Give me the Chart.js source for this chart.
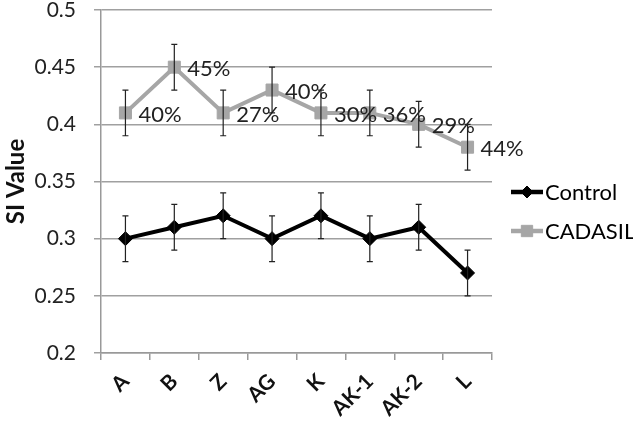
<!DOCTYPE html>
<html>
<head>
<meta charset="utf-8">
<script src="https://cdn.jsdelivr.net/npm/chart.js@4"></script>
<style>
  html, body { margin: 0; padding: 0; background: #fff; }
  #wrap { width: 633px; height: 423px; }
</style>
</head>
<body>
<div id="wrap"><canvas id="grafico" width="633" height="423"></canvas></div>
<script>
const categorias = ["A", "B", "Z", "AG", "K", "AK-1", "AK-2", "L"];
const control = [0.30, 0.31, 0.32, 0.30, 0.32, 0.30, 0.31, 0.27];
const controlError = [0.02, 0.02, 0.02, 0.02, 0.02, 0.02, 0.02, 0.02];
const cadasil = [0.41, 0.45, 0.41, 0.43, 0.41, 0.41, 0.40, 0.38];
const cadasilError = [0.02, 0.02, 0.02, 0.02, 0.02, 0.02, 0.02, 0.02];
const etiquetas = ["40%", "45%", "27%", "40%", "30%", "36%", "29%", "44%"];
const yTicks = [0.2, 0.25, 0.3, 0.35, 0.4, 0.45, 0.5];

const fuente = "Lato, 'Open Sans', sans-serif";

// barras de error
const barrasError = {
    id: "barrasError",
    afterDatasetsDraw(chart) {
        const ctx = chart.ctx;
        const y = chart.scales.y;
        ctx.save();
        ctx.strokeStyle = "#222";
        ctx.lineWidth = 1.2;
        chart.data.datasets.forEach((ds, i) => {
            const meta = chart.getDatasetMeta(i);
            meta.data.forEach((pt, j) => {
                const top = y.getPixelForValue(ds.data[j] + ds.errores[j]);
                const bot = y.getPixelForValue(ds.data[j] - ds.errores[j]);
                ctx.beginPath();
                ctx.moveTo(pt.x, top); ctx.lineTo(pt.x, bot);
                ctx.moveTo(pt.x - 3, top); ctx.lineTo(pt.x + 3, top);
                ctx.moveTo(pt.x - 3, bot); ctx.lineTo(pt.x + 3, bot);
                ctx.stroke();
            });
        });
        ctx.restore();
    },
};

// etiquetas de porcentaje y leyenda
const extras = {
    id: "extras",
    afterDraw(chart) {
        const ctx = chart.ctx;
        ctx.save();
        ctx.font = "22px " + fuente;
        ctx.fillStyle = "#222";
        ctx.textBaseline = "middle";
        ctx.textAlign = "left";
        const meta = chart.getDatasetMeta(1);
        meta.data.forEach((pt, j) => {
            ctx.fillText(etiquetas[j], pt.x + 13, pt.y + 2);
        });

        // leyenda
        const items = [
            { texto: "Control", color: "#000", estilo: "rectRot", r: 6, y: 192 },
            { texto: "CADASIL", color: "#a6a6a6", estilo: "rect", r: 8, y: 231 },
        ];
        items.forEach((it) => {
            ctx.strokeStyle = it.color;
            ctx.lineWidth = 4.5;
            ctx.beginPath();
            ctx.moveTo(511, it.y);
            ctx.lineTo(543, it.y);
            ctx.stroke();
            ctx.fillStyle = it.color;
            ctx.lineWidth = 1;
            Chart.helpers.drawPoint(ctx, {
                pointStyle: it.estilo, radius: it.r, rotation: 0, borderWidth: 1,
            }, 527, it.y);
            ctx.fillStyle = "#000";
            ctx.font = "22px " + fuente;
            ctx.fillText(it.texto, 545, it.y + 1);
        });
        ctx.restore();
    },
};

const ctx = document.getElementById("grafico");

new Chart(ctx, {
    type: "line",
    data: {
        labels: categorias,
        datasets: [
            {
                label: "Control",
                data: control,
                errores: controlError,
                borderColor: "#000",
                backgroundColor: "#000",
                borderWidth: 4,
                pointStyle: "rectRot",
                pointRadius: 7,
                pointBorderWidth: 1,
                tension: 0,
                clip: 12,
            },
            {
                label: "CADASIL",
                data: cadasil,
                errores: cadasilError,
                borderColor: "#a6a6a6",
                backgroundColor: "#a6a6a6",
                borderWidth: 4,
                pointStyle: "rect",
                pointRadius: 8.5,
                pointBorderWidth: 1,
                tension: 0,
                clip: 12,
            },
        ],
    },
    options: {
        responsive: false,
        animation: false,
        layout: { padding: { top: 10, right: 141, bottom: 2, left: 2 } },
        plugins: {
            legend: { display: false },
            tooltip: { enabled: false },
        },
        scales: {
            x: {
                offset: true,
                grid: {
                    offset: true,
                    drawOnChartArea: false,
                    color: "#999",
                    lineWidth: 1.5,
                    tickLength: 7,
                },
                border: { color: "#999", width: 1.5 },
                ticks: {
                    color: "#111",
                    font: { family: fuente, size: 21, weight: "bold" },
                    maxRotation: 45,
                    minRotation: 45,
                    padding: 9,
                },
                afterFit: (axis) => {
                    axis.height = 68;
                    axis.paddingLeft = 0;
                    axis.paddingRight = 0;
                },
            },
            y: {
                min: 0.2,
                max: 0.5,
                afterBuildTicks: (axis) => {
                    axis.ticks = yTicks.map((v) => ({ value: v }));
                },
                afterFit: (axis) => {
                    axis.width = 99;
                    axis.paddingTop = 0;
                    axis.paddingBottom = 0;
                },
                grid: { color: "#a0a0a0", lineWidth: 1.5, tickLength: 7 },
                border: { color: "#999", width: 1.5 },
                ticks: {
                    color: "#222",
                    font: { family: fuente, size: 21 },
                    padding: 18,
                    callback: (v) => String(Math.round(v * 100) / 100),
                },
                title: {
                    display: true,
                    text: "SI Value",
                    color: "#111",
                    font: { family: fuente, size: 24, weight: "bold" },
                    padding: { top: 0, bottom: 6 },
                },
            },
        },
    },
    plugins: [barrasError, extras],
});
</script>
</body>
</html>
